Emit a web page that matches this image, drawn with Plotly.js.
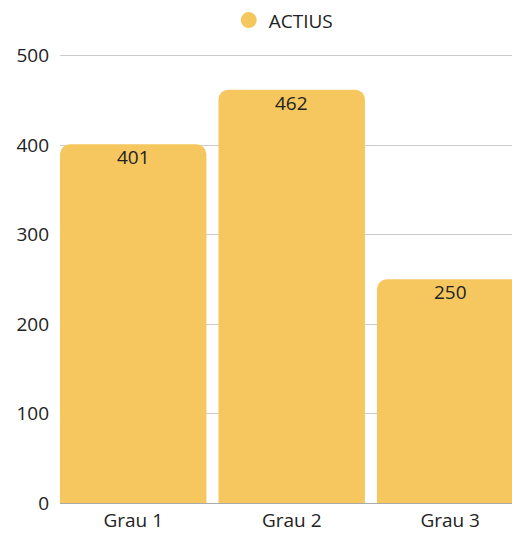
<!DOCTYPE html>
<html>
<head>
<meta charset="utf-8">
<script src="https://cdn.plot.ly/plotly-3.0.1.min.js"></script>
<style>
  html, body { margin: 0; padding: 0; background: #fff; overflow: hidden; }
  #chart { width: 512px; height: 533px; }
</style>
</head>
<body>
<div id="chart"></div>
<script>
const categories = ['Grau 1', 'Grau 2', 'Grau 3'];
const actius = [401, 462, 250];
const seriesName = 'ACTIUS';
const barColor = '#F5C75E';

const traceBars = {
  x: categories,
  y: actius,
  type: 'bar',
  name: seriesName,
  marker: { color: barColor, cornerradius: 10 },
  hoverinfo: 'x+y',
  showlegend: false
};

// scatter trace only for the round legend symbol
const traceLegend = {
  x: [null],
  y: [null],
  type: 'scatter',
  mode: 'markers',
  name: seriesName,
  marker: { color: barColor, size: 19, symbol: 'circle' },
  hoverinfo: 'skip'
};

// value labels just under the top of each bar
const valueLabels = categories.map((cat, i) => ({
  x: cat,
  y: actius[i],
  xref: 'x',
  yref: 'y',
  text: String(actius[i]),
  showarrow: false,
  yanchor: 'top',
  yshift: 2,
  font: { family: 'Open Sans', size: 19, color: '#222' }
}));

const layout = {
  width: 512,
  height: 533,
  margin: { l: 60, r: 0, t: 53, b: 30, autoexpand: false },
  paper_bgcolor: '#fff',
  plot_bgcolor: '#fff',
  font: { family: 'Open Sans', size: 19, color: '#222' },
  bargap: 0.076,
  showlegend: true,
  legend: {
    orientation: 'h',
    x: 0.495,
    xanchor: 'center',
    yref: 'container',
    y: 0.962,
    yanchor: 'middle',
    font: { size: 19, color: '#222' },
    itemsizing: 'trace'
  },
  annotations: valueLabels,
  xaxis: {
    type: 'category',
    range: [-0.462, 2.39],
    showgrid: false,
    zeroline: false,
    showline: true,
    linecolor: '#aaa',
    linewidth: 1,
    ticks: '',
    fixedrange: true
  },
  yaxis: {
    range: [0, 503],
    tickvals: [0, 100, 200, 300, 400, 500],
    gridcolor: '#ccc',
    gridwidth: 1,
    zeroline: false,
    showline: false,
    ticks: '',
    ticklabelstandoff: 10,
    fixedrange: true
  }
};

Plotly.newPlot('chart', [traceBars, traceLegend], layout, { displayModeBar: false, staticPlot: true });
</script>
</body>
</html>
